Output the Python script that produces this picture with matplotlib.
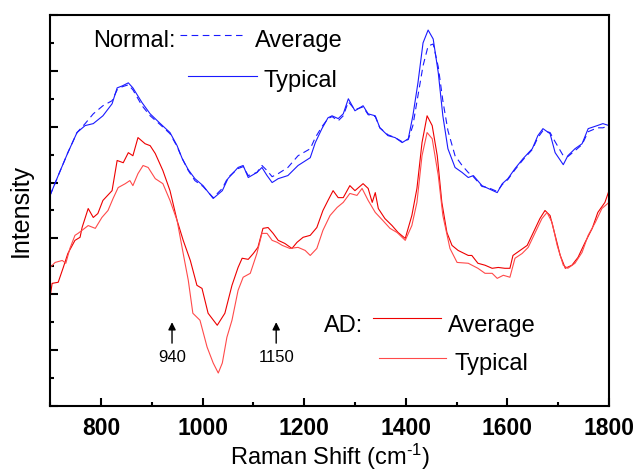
import matplotlib.pyplot as plt
from matplotlib.ticker import MultipleLocator

plt.rcParams['font.family'] = ['Liberation Sans', 'DejaVu Sans']
plt.rcParams['mathtext.fontset'] = 'custom'
plt.rcParams['mathtext.rm'] = 'Liberation Sans'
plt.rcParams['mathtext.default'] = 'regular'

# Raman shift (cm-1), intensity (arb. units)
normal_typical = [
    (700, 7.54), (716, 8.25), (735, 9.07), (753, 9.79), (769, 10.04), (785, 10.11), (804, 10.39),
    (822, 10.82), (832, 11.39), (842, 11.46), (854, 11.57), (863, 11.39), (881, 10.86), (897, 10.46),
    (917, 10.11), (936, 9.79), (950, 9.32), (960, 8.86), (972, 8.46), (985, 8.14), (1001, 7.89),
    (1021, 7.43), (1039, 7.71), (1050, 8.14), (1070, 8.54), (1080, 8.61), (1090, 8.18), (1107, 8.36),
    (1117, 8.54), (1127, 8.25), (1137, 8.00), (1149, 8.14), (1168, 8.25), (1188, 8.61), (1212, 8.89),
    (1222, 9.43), (1235, 9.93), (1247, 10.32), (1255, 10.39), (1267, 10.29), (1277, 10.46), (1287, 11.00),
    (1300, 10.57), (1316, 10.75), (1326, 10.46), (1340, 10.39), (1349, 9.96), (1365, 9.68), (1379, 9.61),
    (1393, 9.43), (1405, 9.57), (1414, 10.39), (1424, 11.57), (1434, 13.00), (1444, 13.46), (1454, 13.14),
    (1464, 11.93), (1473, 10.39), (1483, 9.21), (1497, 8.54), (1511, 8.36), (1523, 8.18), (1533, 8.25),
    (1550, 7.89), (1562, 7.79), (1580, 7.64), (1590, 7.96), (1601, 8.14), (1615, 8.50), (1631, 8.86),
    (1649, 9.21), (1660, 9.68), (1670, 9.93), (1684, 9.75), (1694, 9.07), (1710, 8.64), (1719, 8.96),
    (1733, 9.21), (1747, 9.39), (1759, 9.93), (1777, 10.04), (1788, 10.11), (1800, 10.04),
]

normal_average = [
    (700, 7.54), (716, 8.25), (735, 9.07), (753, 9.79), (769, 10.11), (785, 10.46), (804, 10.75),
    (822, 10.93), (832, 11.32), (842, 11.43), (854, 11.50), (863, 11.32), (881, 10.75), (897, 10.39),
    (917, 10.07), (936, 9.75), (950, 9.29), (960, 8.86), (972, 8.43), (985, 8.07), (1001, 7.86),
    (1021, 7.46), (1039, 7.79), (1050, 8.18), (1070, 8.50), (1080, 8.57), (1090, 8.25), (1107, 8.36),
    (1117, 8.61), (1127, 8.43), (1137, 8.21), (1149, 8.32), (1168, 8.54), (1188, 8.96), (1212, 9.21),
    (1222, 9.61), (1235, 10.00), (1247, 10.29), (1255, 10.36), (1267, 10.21), (1277, 10.39), (1287, 10.89),
    (1300, 10.61), (1316, 10.71), (1326, 10.43), (1340, 10.36), (1349, 9.96), (1365, 9.71), (1379, 9.61),
    (1393, 9.46), (1405, 9.54), (1414, 10.04), (1424, 11.11), (1434, 12.18), (1444, 12.89), (1454, 12.96),
    (1464, 12.14), (1473, 10.93), (1483, 9.86), (1497, 8.96), (1511, 8.61), (1523, 8.36), (1533, 8.21),
    (1550, 7.86), (1562, 7.82), (1580, 7.68), (1590, 7.93), (1601, 8.11), (1615, 8.46), (1631, 8.82),
    (1649, 9.18), (1660, 9.61), (1670, 9.86), (1684, 9.79), (1694, 9.46), (1710, 8.96), (1719, 8.93),
    (1733, 9.14), (1747, 9.36), (1759, 9.82), (1777, 9.96), (1788, 9.96), (1800, 10.04),
]

ad_average = [
    (700, 3.89), (704, 4.39), (716, 4.43), (726, 4.96), (735, 5.46), (749, 5.93), (759, 6.04),
    (763, 6.39), (775, 7.07), (785, 6.75), (794, 6.89), (804, 7.36), (822, 7.71), (832, 8.79),
    (844, 8.71), (854, 9.07), (863, 8.96), (873, 9.61), (887, 9.39), (897, 9.32), (907, 9.04),
    (922, 8.43), (936, 7.71), (950, 6.64), (962, 5.93), (976, 5.21), (989, 4.32), (999, 4.21),
    (1011, 3.32), (1029, 2.89), (1044, 3.32), (1058, 4.32), (1070, 4.96), (1078, 5.29), (1090, 5.25),
    (1100, 5.46), (1109, 5.68), (1119, 6.36), (1129, 6.39), (1139, 6.18), (1149, 5.93), (1162, 5.82),
    (1176, 5.64), (1186, 5.86), (1198, 6.04), (1212, 6.11), (1225, 6.39), (1237, 7.00), (1247, 7.36),
    (1257, 7.71), (1267, 7.46), (1277, 7.46), (1290, 7.89), (1300, 7.71), (1316, 7.96), (1326, 7.79),
    (1334, 7.29), (1340, 7.64), (1346, 7.07), (1359, 6.71), (1373, 6.46), (1385, 6.21), (1399, 6.00),
    (1412, 6.82), (1422, 7.79), (1432, 9.43), (1442, 10.39), (1452, 10.04), (1462, 8.96), (1471, 7.29),
    (1481, 6.21), (1491, 5.75), (1503, 5.57), (1523, 5.39), (1530, 5.39), (1542, 5.11), (1556, 5.04),
    (1570, 4.93), (1582, 4.96), (1595, 4.93), (1605, 4.93), (1611, 5.39), (1625, 5.57), (1639, 5.75),
    (1651, 6.21), (1664, 6.71), (1674, 7.00), (1684, 6.82), (1694, 6.11), (1704, 5.39), (1714, 4.93),
    (1727, 5.04), (1739, 5.32), (1753, 5.86), (1767, 6.36), (1778, 6.93), (1792, 7.29), (1800, 7.71),
]

ad_typical = [
    (700, 4.96), (710, 5.14), (724, 5.21), (731, 5.11), (739, 5.64), (749, 6.11), (755, 6.18),
    (763, 6.29), (775, 6.46), (789, 6.36), (802, 6.75), (814, 7.00), (824, 7.43), (834, 7.82),
    (848, 7.96), (857, 8.07), (863, 7.89), (873, 8.32), (883, 8.61), (893, 8.54), (907, 8.14),
    (922, 7.96), (936, 7.36), (950, 6.64), (962, 5.46), (972, 4.50), (981, 3.32), (995, 3.07),
    (1009, 2.11), (1021, 1.54), (1031, 1.18), (1039, 1.54), (1048, 2.46), (1058, 3.07), (1070, 4.14),
    (1080, 4.61), (1094, 4.75), (1107, 5.46), (1117, 6.18), (1127, 6.18), (1137, 5.93), (1147, 5.86),
    (1157, 5.75), (1172, 5.64), (1188, 5.68), (1202, 5.57), (1212, 5.39), (1225, 5.64), (1237, 6.29),
    (1251, 6.82), (1265, 7.11), (1277, 7.29), (1290, 7.61), (1304, 7.54), (1314, 7.79), (1326, 7.36),
    (1340, 6.93), (1355, 6.64), (1369, 6.36), (1383, 6.21), (1399, 5.93), (1412, 6.46), (1422, 7.29),
    (1432, 8.96), (1442, 9.79), (1452, 9.57), (1464, 8.25), (1473, 6.82), (1487, 5.64), (1501, 5.14),
    (1523, 5.11), (1542, 4.93), (1556, 4.75), (1570, 4.75), (1580, 4.57), (1592, 4.68), (1605, 4.61),
    (1615, 5.29), (1629, 5.46), (1641, 5.68), (1654, 6.18), (1668, 6.71), (1678, 6.93), (1688, 6.57),
    (1698, 5.75), (1710, 5.04), (1719, 4.93), (1733, 5.11), (1747, 5.50), (1759, 6.11), (1773, 6.57),
    (1786, 7.07), (1800, 7.29),
]

marked_peaks = [940, 1145]
marked_labels = ['940', '1150']

blue = '#1a1aff'
red_avg = '#ee0000'
red_typ = '#ff4a4a'

fig, ax = plt.subplots(figsize=(6.42, 4.74), dpi=100)
fig.subplots_adjust(left=0.078, right=0.9486, top=0.9684, bottom=0.1435)

x, y = zip(*normal_average)
ax.plot(x, y, color=blue, lw=0.8, dashes=(6, 4))
x, y = zip(*normal_typical)
ax.plot(x, y, color=blue, lw=0.8)
x, y = zip(*ad_average)
ax.plot(x, y, color=red_avg, lw=0.8)
x, y = zip(*ad_typical)
ax.plot(x, y, color=red_typ, lw=0.8)

# arrows for the marked bands
for pos, lab in zip(marked_peaks, marked_labels):
    ax.annotate('', xy=(pos, 3.0), xytext=(pos, 2.25),
                arrowprops=dict(arrowstyle='-|>', color='k', lw=1, mutation_scale=11, shrinkA=0, shrinkB=0))
    ax.text(pos, 1.75, lab, ha='center', va='center', fontsize=12)

# hand-made legends
fs = 17
tr = ax.transAxes
ax.text(0.077, 0.918, 'Normal:', transform=tr, fontsize=fs, va='baseline')
ax.plot([0.233, 0.3435], [0.949, 0.949], transform=tr, color=blue, lw=0.8, dashes=(6, 4))
ax.text(0.367, 0.918, 'Average', transform=tr, fontsize=fs, va='baseline')
ax.plot([0.247, 0.370], [0.844, 0.844], transform=tr, color=blue, lw=0.8)
ax.text(0.381, 0.816, 'Typical', transform=tr, fontsize=fs, va='baseline')

ax.text(0.490, 0.189, 'AD:', transform=tr, fontsize=fs, va='baseline')
ax.plot([0.578, 0.6995], [0.225, 0.225], transform=tr, color=red_avg, lw=0.8)
ax.text(0.712, 0.189, 'Average', transform=tr, fontsize=fs, va='baseline')
ax.plot([0.5886, 0.7084], [0.1228, 0.1228], transform=tr, color=red_typ, lw=0.8)
ax.text(0.7227, 0.092, 'Typical', transform=tr, fontsize=fs, va='baseline')

ax.set_xlim(700, 1800)
ax.set_ylim(0, 14)
ax.xaxis.set_major_locator(MultipleLocator(200))
ax.xaxis.set_minor_locator(MultipleLocator(100))
ax.yaxis.set_major_locator(MultipleLocator(2))
ax.yaxis.set_minor_locator(MultipleLocator(1))
ax.tick_params(which='both', direction='in', width=1.5, top=False, right=False)
ax.tick_params(which='major', length=5.5)
ax.tick_params(which='minor', length=2.7)
ax.tick_params(axis='y', labelleft=False)
ax.tick_params(axis='x', labelsize=16.5, pad=8)
for lab in ax.get_xticklabels():
    lab.set_fontweight('bold')
for sp in ax.spines.values():
    sp.set_linewidth(1.5)

ax.set_xlabel('Raman Shift (cm$^{\u2010 1}$)', fontsize=17, labelpad=1)
ax.set_ylabel('Intensity', fontsize=18, labelpad=9)

fig.savefig('out.png', dpi=100)
